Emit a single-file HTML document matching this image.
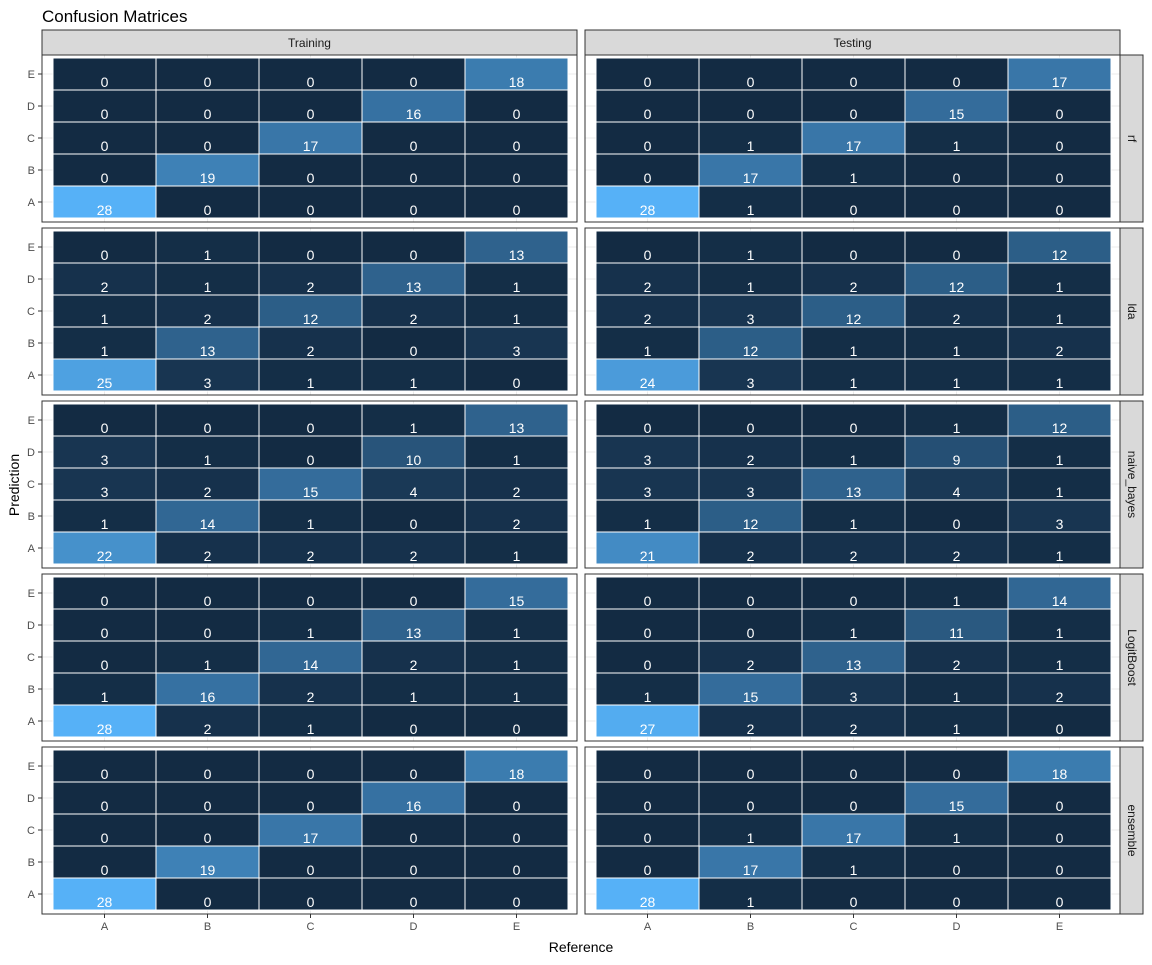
<!DOCTYPE html>
<html><head><meta charset="utf-8"><style>
body{margin:0;background:#fff;font-family:"Liberation Sans",sans-serif}
</style></head><body>
<svg id="c" width="1152" height="960" xmlns="http://www.w3.org/2000/svg" font-family="Liberation Sans, sans-serif">
<text x="42" y="22" font-size="17" fill="#000">Confusion Matrices</text>
<text x="581" y="952" font-size="14" text-anchor="middle" fill="#000">Reference</text>
<text x="19" y="485" font-size="14" text-anchor="middle" fill="#000" transform="rotate(-90 19 485)">Prediction</text>
</svg>
<script>
const classes=["A","B","C","D","E"];
const sets=["Training","Testing"];
const models=["rf","lda","naive_bayes","LogitBoost","ensemble"];
// values[model][set][predRow A..E][refCol A..E]
const rfTrain=[[28,0,0,0,0],[0,19,0,0,0],[0,0,17,0,0],[0,0,0,16,0],[0,0,0,0,18]];
const rfTest=[[28,1,0,0,0],[0,17,1,0,0],[0,1,17,1,0],[0,0,0,15,0],[0,0,0,0,17]];
const ldaTrain=[[25,3,1,1,0],[1,13,2,0,3],[1,2,12,2,1],[2,1,2,13,1],[0,1,0,0,13]];
const ldaTest=[[24,3,1,1,1],[1,12,1,1,2],[2,3,12,2,1],[2,1,2,12,1],[0,1,0,0,12]];
const nbTrain=[[22,2,2,2,1],[1,14,1,0,2],[3,2,15,4,2],[3,1,0,10,1],[0,0,0,1,13]];
const nbTest=[[21,2,2,2,1],[1,12,1,0,3],[3,3,13,4,1],[3,2,1,9,1],[0,0,0,1,12]];
const lbTrain=[[28,2,1,0,0],[1,16,2,1,1],[0,1,14,2,1],[0,0,1,13,1],[0,0,0,0,15]];
const lbTest=[[27,2,2,1,0],[1,15,3,1,2],[0,2,13,2,1],[0,0,1,11,1],[0,0,0,1,14]];
const enTrain=[[28,0,0,0,0],[0,19,0,0,0],[0,0,17,0,0],[0,0,0,16,0],[0,0,0,0,18]];
const enTest=[[28,1,0,0,0],[0,17,1,0,0],[0,1,17,1,0],[0,0,0,15,0],[0,0,0,0,18]];
const matrices=[[rfTrain,rfTest],[ldaTrain,ldaTest],[nbTrain,nbTest],[lbTrain,lbTest],[enTrain,enTest]];

const svg=document.getElementById('c');const NS="http://www.w3.org/2000/svg";
function mk(t,a,p){const e=document.createElementNS(NS,t);for(const k in a)e.setAttribute(k,a[k]);(p||svg).appendChild(e);return e;}
const panelX=[42,585],panelW=535,panelTop0=55,panelH=167,panelGap=6;
const maxV=28;
function fill(v){const t=Math.pow(v/maxV,1.15);const a=[19,43,67],b=[86,177,247];return `rgb(${a.map((c,i)=>Math.round(c+(b[i]-c)*t)).join(',')})`;}
function xc(si,j){return panelX[si]+11+103*j+51.5;}
function yTop(mi){return panelTop0+mi*(panelH+panelGap);}
function yc(mi,r){return yTop(mi)+3+32*(4-r)+16;}
sets.forEach((s,si)=>{
 const r=mk('rect',{x:panelX[si],y:30,width:panelW,height:25,fill:'#d9d9d9',stroke:'#333','stroke-width':1,'shape-rendering':'crispEdges'});
 
 const t=mk('text',{x:panelX[si]+panelW/2,y:47,'font-size':12,'text-anchor':'middle',fill:'#1a1a1a'});t.textContent=s;
 
});
models.forEach((m,mi)=>{
 const top=yTop(mi);
 const sr=mk('rect',{x:1120,y:top,width:23,height:panelH,fill:'#d9d9d9',stroke:'#333','stroke-width':1,'shape-rendering':'crispEdges'});
 
 const st=mk('text',{x:1128,y:top+panelH/2,'font-size':12,'text-anchor':'middle',fill:'#1a1a1a',transform:`rotate(90 1128 ${top+panelH/2})`});st.textContent=m;
 
 classes.forEach((c,r)=>{
  const y=yc(mi,r);
  const tk=mk('line',{x1:38,x2:42,y1:y,y2:y,stroke:'#333','shape-rendering':'crispEdges'});
  const tl=mk('text',{x:35,y:y+4,'font-size':11,'text-anchor':'end',fill:'#4d4d4d'});tl.textContent=c;
  
 });
 sets.forEach((s,si)=>{
  const g=mk('g',{'shape-rendering':'crispEdges'});
  mk('rect',{x:panelX[si],y:top,width:panelW,height:panelH,fill:'#fff'},g);
  classes.forEach((c,j)=>{mk('line',{x1:xc(si,j),x2:xc(si,j),y1:top,y2:top+panelH,stroke:'#ebebeb'},g);
   mk('line',{x1:panelX[si],x2:panelX[si]+panelW,y1:yc(mi,j),y2:yc(mi,j),stroke:'#ebebeb'},g);});
  const M=matrices[mi][si];
  for(let r=0;r<5;r++)for(let j=0;j<5;j++){
   const v=M[r][j];
   const t=mk('rect',{x:xc(si,j)-51.5,y:yc(mi,r)-16,width:103,height:32,fill:fill(v),stroke:'#ffffff','stroke-width':1},g);
   
   const tx=mk('text',{x:xc(si,j),y:yc(mi,r)+13,'font-size':14,'text-anchor':'middle',fill:'#fff','shape-rendering':'auto'},g);tx.textContent=v;
   
  }
  mk('rect',{x:panelX[si],y:top,width:panelW,height:panelH,fill:'none',stroke:'#333','stroke-width':1.2},g);
 });
});
sets.forEach((s,si)=>{classes.forEach((c,j)=>{
 const x=xc(si,j),yb=yTop(4)+panelH;
 const tk=mk('line',{x1:x,x2:x,y1:yb,y2:yb+4,stroke:'#333'});
 const tl=mk('text',{x:x,y:yb+16,'font-size':11,'text-anchor':'middle',fill:'#4d4d4d'});tl.textContent=c;
 
});});
</script></body></html>
